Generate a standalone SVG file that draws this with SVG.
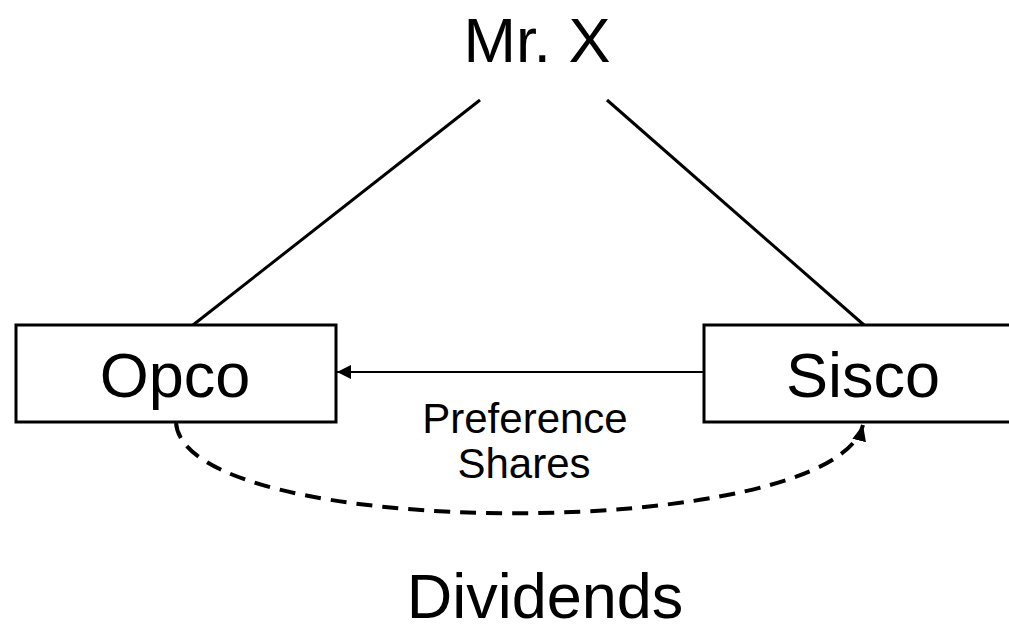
<svg xmlns="http://www.w3.org/2000/svg" width="1009" height="626" viewBox="0 0 1009 626">
  <style>
    .label { font-family: "Liberation Sans", Arial, sans-serif; fill: #000; text-anchor: middle; }
    .big { font-size: 63px; }
    .small { font-size: 42px; }
    .box { fill: #fff; stroke: #000; stroke-width: 3; }
    .tie { stroke: #000; stroke-width: 3; fill: none; }
    .flow { stroke: #000; stroke-width: 2; fill: none; }
    .dash { stroke: #000; stroke-width: 4; fill: none; stroke-dasharray: 16 10; }
  </style>
  <defs>
    <marker id="headSolid" viewBox="0 0 14 14" refX="14" refY="7" markerWidth="14" markerHeight="14" markerUnits="userSpaceOnUse" orient="auto">
      <path d="M0,0 L14,7 L0,14 Z" fill="#000"/>
    </marker>
    <marker id="headDash" viewBox="0 0 16 14" refX="16" refY="7" markerWidth="16" markerHeight="14" markerUnits="userSpaceOnUse" orient="auto">
      <path d="M0,0 L16,7 L0,14 Z" fill="#000"/>
    </marker>
  </defs>
  <rect width="1009" height="626" fill="#fff"/>

  <g id="connectors">
    <line class="tie" x1="480" y1="100" x2="193" y2="325"/>
    <line class="tie" x1="607" y1="100" x2="864" y2="325"/>
    <line class="flow" x1="704" y1="372" x2="337" y2="372" marker-end="url(#headSolid)"/>
    <path class="dash" d="M176,423 C186,543 834,543 863,425" marker-end="url(#headDash)"/>
  </g>

  <g id="mrx">
    <text class="label big" x="537" y="62">Mr. X</text>
  </g>

  <g id="opco">
    <rect class="box" x="16" y="325" width="320" height="97"/>
    <text class="label big" x="175" y="397">Opco</text>
  </g>

  <g id="sisco">
    <rect class="box" x="704" y="325" width="330" height="97"/>
    <text class="label big" x="863" y="397">Sisco</text>
  </g>

  <g id="preference-shares">
    <text class="label small" x="525" y="433">Preference</text>
    <text class="label small" x="524" y="478">Shares</text>
  </g>

  <g id="dividends">
    <text class="label big" x="545" y="618">Dividends</text>
  </g>
</svg>
